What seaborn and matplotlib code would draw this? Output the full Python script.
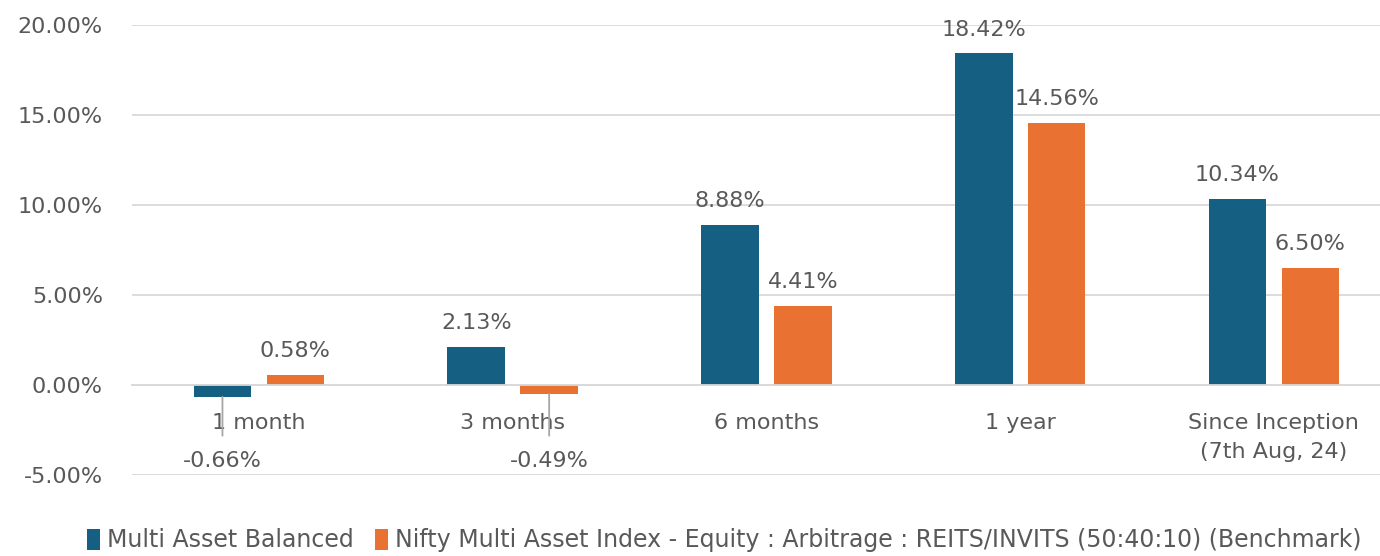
import pandas as pd
import numpy as np
import matplotlib.pyplot as plt
import seaborn as sns

# data
periods = ['1 month', '3 months', '6 months', '1 year', 'Since Inception\n(7th Aug, 24)']
fund = [-0.66, 2.13, 8.88, 18.42, 10.34]
bench = [0.58, -0.49, 4.41, 14.56, 6.50]
series = ['Multi Asset Balanced',
          'Nifty Multi Asset Index - Equity : Arbitrage : REITS/INVITS (50:40:10) (Benchmark)']
colors = ['#156082', '#E97132']

df = pd.DataFrame({'period': periods * 2,
                   'series': [series[0]] * len(periods) + [series[1]] * len(periods),
                   'ret': fund + bench})

sns.set_style('white')
plt.rcParams['font.family'] = ['DejaVu Sans']
txt = '#595959'
grid = '#D9D9D9'

fig = plt.figure(figsize=(13.8, 5.56), dpi=100)
ax = fig.add_axes([0.0957, 0.1457, 0.9043, 0.8094])
sns.barplot(data=df, x='period', y='ret', hue='series', palette=colors,
            width=0.575, gap=0.21, saturation=1, linewidth=0, ax=ax)

ax.set_ylim(-5, 20)
ax.set_xlim(-0.5, 4.418)
ax.set_yticks(np.arange(-5, 21, 5))
ax.yaxis.set_major_formatter(plt.FuncFormatter(lambda v, p: f'{v:.2f}%'))
ax.yaxis.grid(True, color=grid, lw=1.3)
ax.set_axisbelow(True)
for s in ['top', 'right', 'left']:
    ax.spines[s].set_visible(False)
ax.spines['bottom'].set_position(('data', 0))
ax.spines['bottom'].set_color(grid)
ax.spines['bottom'].set_linewidth(1.3)
ax.tick_params(axis='y', length=0, pad=21, labelsize=16, labelcolor=txt)
ax.tick_params(axis='x', length=0, pad=20, labelsize=16, labelcolor=txt)
for t in ax.get_xticklabels():
    t.set_linespacing(1.55)
ax.set_xlabel('')
ax.set_ylabel('')

# value labels
for cont, vals in zip(ax.containers, [fund, bench]):
    for bar, v in zip(cont, vals):
        cx = bar.get_x() + bar.get_width() / 2
        if v >= 0:
            ax.annotate(f'{v:.2f}%', (cx, v), xytext=(0, 10), textcoords='offset points',
                        ha='center', va='bottom', fontsize=16, color=txt)
        else:
            ax.annotate(f'{v:.2f}%', (cx, v), xytext=(cx, -4.25), ha='center', va='center',
                        fontsize=16, color=txt,
                        arrowprops=dict(arrowstyle='-', color='#A6A6A6', lw=1.3,
                                        shrinkA=9, shrinkB=0))

h, l = ax.get_legend_handles_labels()
ax.get_legend().remove()
fig.legend(h, l, loc='center', bbox_to_anchor=(0.525, 0.028), ncol=2, frameon=False,
           fontsize=17, handlelength=0.55, handleheight=1.0, handletextpad=0.3,
           columnspacing=0.9, labelcolor=txt)

fig.savefig('out.png', dpi=100)
